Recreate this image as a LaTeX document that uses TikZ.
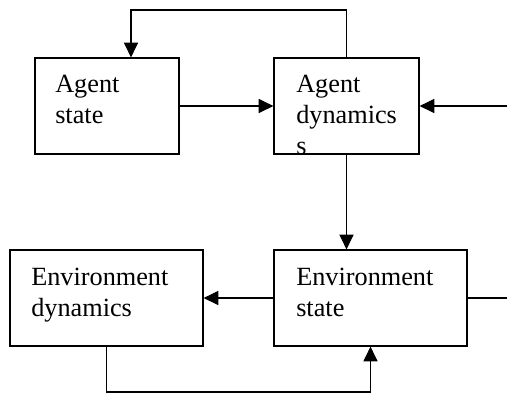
\documentclass[tikz,border=0pt]{standalone}
\usepackage{fontspec}
\setmainfont{Liberation Serif}
\usetikzlibrary{arrows.meta,calc}
\tikzset{
  box/.style={draw, line width=0.9pt, rectangle, inner sep=0pt},
  lbl/.style={anchor=base west, align=left, inner sep=0pt, font=\fontsize{19.7pt}{23.25pt}\selectfont},
  conn/.style={line width=0.8pt},
  arr/.style={conn, -{Triangle[length=11pt,width=10.5pt]}}
}
\begin{document}
\begin{tikzpicture}[x=0.75pt,y=-0.75pt]
\useasboundingbox (0,0) rectangle (507,394);
% boxes
\node[box, minimum width=144*0.75pt, minimum height=96*0.75pt] (as) at (107,106) {};
\node[box, minimum width=145*0.75pt, minimum height=96*0.75pt] (ad) at (346.5,106) {};
\node[box, minimum width=193*0.75pt, minimum height=96*0.75pt] (ed) at (106.5,298) {};
\node[box, minimum width=193*0.75pt, minimum height=96*0.75pt] (es) at (370.5,298) {};
% labels (anchored at the baseline of the last line)
\node[lbl] (tas) at (55,123) {Agent\\state};
\node[lbl] (tad) at (296,154) {Agent\\dynamics\\s};
\node[lbl] (ted) at (31,316) {Environment\\dynamics};
\node[lbl] (tes) at (296,316) {Environment\\state};
% coordinates
\coordinate (fb) at (131,10);
\coordinate (rin) at (507,106);
\coordinate (rout) at (507,298);
\coordinate (lb) at (0,392);
% connectors
\draw[arr] (ad.north) |- (fb) -- (fb |- as.north);
\draw[arr] (as.east) -- (ad.west);
\draw[arr] (rin) -- (ad.east);
\draw[arr] (ad.south) -- (ad.south |- es.north);
\draw[arr] (es.west) -- (ed.east);
\draw[conn] (es.east) -- (rout);
\draw[arr] (ed.south) -- (ed.south |- lb) -| (es.south);
\end{tikzpicture}
\end{document}
